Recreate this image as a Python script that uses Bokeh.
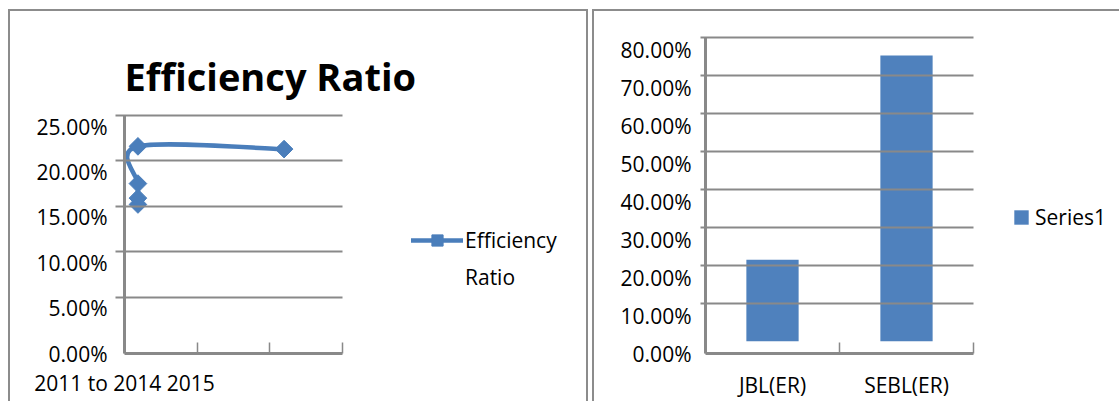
import numpy as np
from bokeh.plotting import figure
from bokeh.layouts import row
from bokeh.models import (Range1d, LinearAxis, FixedTicker, NumeralTickFormatter,
                          Legend, LegendItem, Label, ColumnDataSource)
from bokeh.embed import file_html
from bokeh.resources import INLINE

# ---------------- data ----------------
er_title = "Efficiency Ratio"
er_axis_title = "2011 to 2014 2015"
er_x = [0.185, 0.185, 0.185, 0.185, 2.196]
er_y = [0.152, 0.159, 0.175, 0.216, 0.213]
er_yticks = [0.0, 0.05, 0.10, 0.15, 0.20, 0.25]
er_xticks = [0, 1, 2, 3]

banks = ["JBL(ER)", "SEBL(ER)"]
bank_er = [0.215, 0.753]
bank_yticks = [0.0, 0.1, 0.2, 0.3, 0.4, 0.5, 0.6, 0.7, 0.8]
bar_series = "Series1"

# ---------------- style ----------------
BLUE_LINE = "#4A7EBB"
BLUE_BAR = "#4F81BD"
GRAY = "#898989"
BORDER = "#8C8C8C"
FONT = "Open Sans"
FS = "21px"


def panel_border(left, right_edge, top):
    g = "linear-gradient(%s,%s)" % (BORDER, BORDER)
    if right_edge is None:
        parts = ["%s %dpx %dpx/%dpx 2px no-repeat" % (g, left, top, 2000),
                 "%s %dpx %dpx/2px 600px no-repeat" % (g, left, top)]
    else:
        parts = ["%s %dpx %dpx/%dpx 2px no-repeat" % (g, left, top, right_edge - left),
                 "%s %dpx %dpx/2px 600px no-repeat" % (g, left, top),
                 "%s %dpx %dpx/2px 600px no-repeat" % (g, right_edge - 2, top)]
    return {"background": ", ".join(parts) + ", #ffffff"}


def smooth_segments(xs, ys, k=1.0 / 6.0):
    X = np.asarray(xs, float)
    Y = np.asarray(ys, float)
    n = len(X)
    d = {key: [] for key in ("x0", "y0", "x1", "y1", "cx0", "cy0", "cx1", "cy1")}
    for i in range(n - 1):
        a = max(i - 1, 0)
        b = min(i + 2, n - 1)
        d["x0"].append(X[i]); d["y0"].append(Y[i])
        d["x1"].append(X[i + 1]); d["y1"].append(Y[i + 1])
        d["cx0"].append(X[i] + k * (X[i + 1] - X[a])); d["cy0"].append(Y[i] + k * (Y[i + 1] - Y[a]))
        d["cx1"].append(X[i + 1] - k * (X[b] - X[i])); d["cy1"].append(Y[i + 1] - k * (Y[b] - Y[i]))
    return d


# ================= left chart =================
s1 = 908.0             # px per unit (y)
px1 = 218.0 / 3        # px per unit (x)
d1 = 11 / s1           # label layer offset
y1 = Range1d(-11 / s1, 307 / s1)
p1 = figure(width=590, height=401, output_backend="svg", toolbar_location=None,
            x_range=Range1d(0, 464 / px1), y_range=y1, x_axis_location=None, y_axis_location=None,
            min_border_left=124, min_border_right=2, min_border_top=35, min_border_bottom=48,
            background_fill_color=None, border_fill_color=None, outline_line_color=None,
            styles=panel_border(8, 588, 9))
p1.extra_y_ranges = {"lab": Range1d(y1.start + d1, y1.end + d1)}
p1.xgrid.visible = False
p1.ygrid.visible = False

yl = LinearAxis(y_range_name="lab",
                ticker=FixedTicker(ticks=er_yticks, minor_ticks=[v + d1 for v in er_yticks[1:]]),
                formatter=NumeralTickFormatter(format="0.00%"),
                bounds=(0, er_yticks[-1] + d1 + 0.0005),
                axis_line_color=GRAY, axis_line_width=3,
                major_tick_line_color=None, major_tick_out=9, major_tick_in=0,
                minor_tick_line_color=GRAY, minor_tick_line_width=2,
                minor_tick_out=9, minor_tick_in=218,
                major_label_standoff=8, major_label_text_font=FONT,
                major_label_text_font_size=FS, major_label_text_color="black")
p1.add_layout(yl, "left")
xa = LinearAxis(ticker=FixedTicker(ticks=[], minor_ticks=er_xticks),
                bounds=(er_xticks[0], er_xticks[-1]),
                axis_line_color=GRAY, axis_line_width=3,
                major_tick_line_color=None, major_tick_out=0, major_tick_in=0,
                minor_tick_line_color=GRAY, minor_tick_line_width=1.5, minor_tick_in=11, minor_tick_out=0,
                major_label_standoff=0,
                axis_label=er_axis_title, axis_label_standoff=15, axis_label_text_font=FONT,
                axis_label_text_font_size=FS, axis_label_text_font_style="normal",
                axis_label_text_color="black")
for _al in ("start", "left"):
    try:
        xa.axis_label_align = _al
        break
    except Exception:
        pass
p1.add_layout(xa, "below")

p1.add_layout(Label(x=0, y=267 / s1, text=er_title, text_align="left", text_baseline="middle",
                    text_font=FONT, text_font_size="38px", text_font_style="bold", text_color="black"))

seg = ColumnDataSource(smooth_segments(er_x, er_y))
bez = p1.bezier(x0="x0", y0="y0", x1="x1", y1="y1", cx0="cx0", cy0="cy0", cx1="cx1", cy1="cy1",
                source=seg, line_color=BLUE_LINE, line_width=4.5, line_cap="round")
pts = p1.scatter(er_x, er_y, marker="square", angle=np.pi / 4, size=12.5,
                 fill_color=BLUE_LINE, line_color=BLUE_LINE)
blank = p1.line(x=[], y=[], line_alpha=0)

words = er_title.split()
leg1 = Legend(items=[LegendItem(label=words[0], renderers=[bez, pts]),
                     LegendItem(label=" ".join(words[1:]), renderers=[blank])],
              location=(287, 62), glyph_width=52, glyph_height=28, label_height=28,
              spacing=9, label_standoff=2,
              padding=0, margin=0, border_line_color=None, background_fill_alpha=0,
              label_text_font=FONT, label_text_font_size=FS, label_text_color="black")
p1.add_layout(leg1, "center")

# ================= right chart =================
bank_pos = [i + 0.5 for i in range(len(banks))]
s2 = 379.25
px2 = 268.0 / len(banks)
d2 = 12.3 / s2
y2 = Range1d(-12.3 / s2, 305.7 / s2)
p2 = figure(width=529, height=401, output_backend="svg", toolbar_location=None,
            x_range=Range1d(0, 414 / px2), y_range=y2, x_axis_location=None, y_axis_location=None,
            min_border_left=115, min_border_right=0, min_border_top=35, min_border_bottom=48,
            background_fill_color=None, border_fill_color=None, outline_line_color=None,
            styles=panel_border(2, None, 9))
p2.extra_y_ranges = {"lab": Range1d(y2.start + d2, y2.end + d2)}
p2.xgrid.visible = False
p2.ygrid.visible = False

yl2 = LinearAxis(y_range_name="lab",
                 ticker=FixedTicker(ticks=bank_yticks, minor_ticks=[v + d2 for v in bank_yticks[1:]]),
                 formatter=NumeralTickFormatter(format="0.00%"),
                 bounds=(0, bank_yticks[-1] + d2 + 0.001),
                 axis_line_color=GRAY, axis_line_width=3,
                 major_tick_line_color=None, major_tick_out=5, major_tick_in=0,
                 minor_tick_line_color=GRAY, minor_tick_line_width=2,
                 minor_tick_out=5, minor_tick_in=268,
                 major_label_standoff=9, major_label_text_font=FONT,
                 major_label_text_font_size=FS, major_label_text_color="black")
p2.add_layout(yl2, "left")
xa2 = LinearAxis(ticker=FixedTicker(ticks=bank_pos, minor_ticks=list(range(len(banks) + 1))),
                 bounds=(0, len(banks)),
                 major_label_overrides={pos: name for pos, name in zip(bank_pos, banks)},
                 axis_line_color=GRAY, axis_line_width=3,
                 major_tick_line_color=None, major_tick_out=0, major_tick_in=0,
                 minor_tick_line_color=GRAY, minor_tick_line_width=1.5, minor_tick_in=11, minor_tick_out=0,
                 major_label_standoff=17, major_label_text_font=FONT,
                 major_label_text_font_size=FS, major_label_text_color="black")
p2.add_layout(xa2, "below")

bars = p2.vbar(x=bank_pos, top=bank_er, width=0.39, fill_color=BLUE_BAR, line_color=None)
leg2 = Legend(items=[LegendItem(label=bar_series, renderers=[bars])],
              location=(307, 122), glyph_width=18, glyph_height=18, label_height=28, label_standoff=5,
              padding=0, margin=0, border_line_color=None, background_fill_alpha=0,
              label_text_font=FONT, label_text_font_size=FS, label_text_color="black")
p2.add_layout(leg2, "center")

layout = row(p1, p2)
open("out.html", "w").write(file_html(layout, INLINE))
